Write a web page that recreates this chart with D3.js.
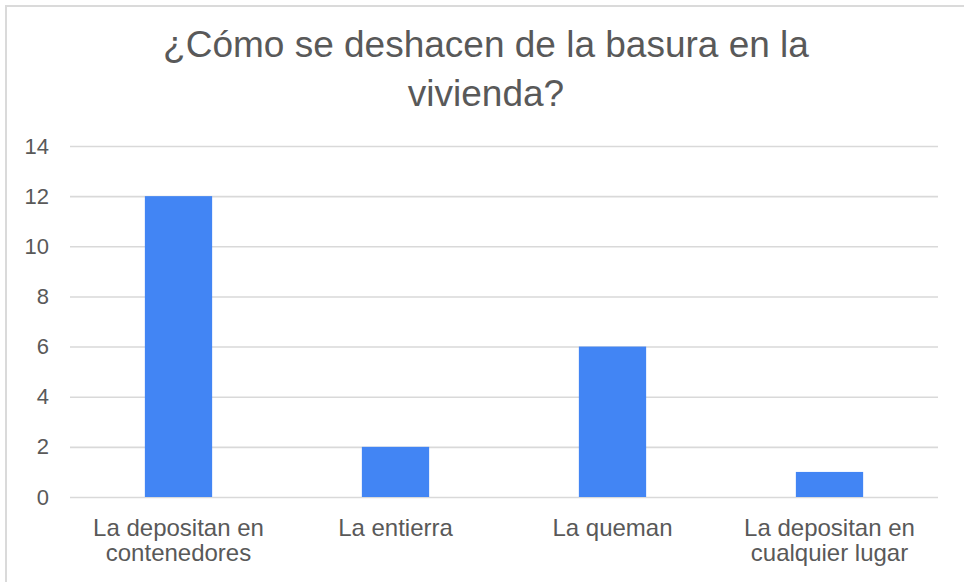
<!DOCTYPE html>
<html>
<head>
<meta charset="utf-8">
<script src="https://cdn.jsdelivr.net/npm/d3@7"></script>
<style>
  html, body { margin: 0; padding: 0; background: #fff; }
  svg { display: block; font-family: "Liberation Sans", Arial, sans-serif; }
</style>
</head>
<body>
<div id="chart"></div>
<script>
// chart data
const titleLines = ["¿Cómo se deshacen de la basura en la", "vivienda?"];
const categories = [
    ["La depositan en", "contenedores"],
    ["La entierra"],
    ["La queman"],
    ["La depositan en", "cualquier lugar"]
];
const values = [12, 2, 6, 1];
const yTicks = [0, 2, 4, 6, 8, 10, 12, 14];

const width = 964, height = 582;
const textColor = "#595959";

const svg = d3.select("#chart")
    .append("svg")
    .attr("width", width)
    .attr("height", height);

// outer frame
svg.append("rect")
    .attr("x", 6).attr("y", 6)
    .attr("width", 1000).attr("height", 1000)
    .attr("fill", "none")
    .attr("stroke", "#dadada")
    .attr("stroke-width", 2);

// Title
svg.append("text")
    .attr("text-anchor", "middle")
    .attr("fill", textColor)
    .style("font-size", "37px")
    .selectAll("tspan")
    .data(titleLines)
    .enter()
    .append("tspan")
    .attr("x", 486)
    .attr("y", (d, i) => 57 + i * 49)
    .text(d => d);

// Scales
const xScale = d3.scaleBand()
    .domain(d3.range(categories.length))
    .range([70, 938])
    .paddingInner(0.69)
    .paddingOuter(0.345);

const yScale = d3.scaleLinear()
    .domain([0, 14])
    .range([497, 146]);

// Gridlines + y labels
const yAxis = svg.append("g")
    .attr("transform", "translate(70,0)")
    .call(d3.axisLeft(yScale).tickValues(yTicks).tickSize(-868).tickPadding(21));

yAxis.select(".domain").remove();
yAxis.selectAll(".tick line")
    .attr("stroke", "#d9d9d9")
    .attr("stroke-width", 1.6);
yAxis.selectAll(".tick text")
    .attr("fill", textColor)
    .style("font-size", "22px")
    .style("font-family", "'Liberation Sans', Arial, sans-serif");

// Bars
svg.selectAll(".bar")
    .data(values)
    .enter()
    .append("rect")
    .attr("class", "bar")
    .attr("x", (d, i) => xScale(i))
    .attr("width", xScale.bandwidth())
    .attr("y", d => yScale(d))
    .attr("height", d => yScale(0) - yScale(d))
    .attr("fill", "#4285f4");

// Category labels
const labels = svg.selectAll(".cat")
    .data(categories)
    .enter()
    .append("text")
    .attr("class", "cat")
    .attr("text-anchor", "middle")
    .attr("fill", textColor)
    .style("font-size", "24px");

labels.selectAll("tspan")
    .data((d, i) => d.map(line => ({ line, i })))
    .enter()
    .append("tspan")
    .attr("x", d => xScale(d.i) + xScale.bandwidth() / 2)
    .attr("y", (d, j) => 536 + j * 25)
    .text(d => d.line);
</script>
</body>
</html>
